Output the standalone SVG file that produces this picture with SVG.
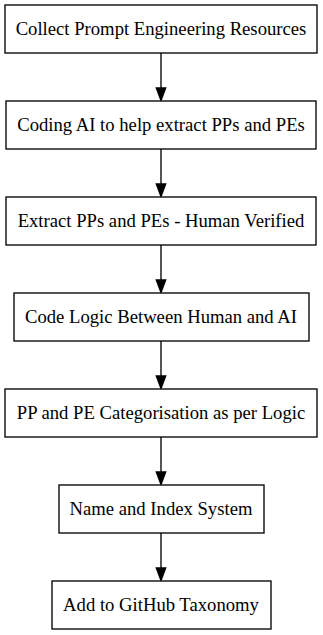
<svg xmlns="http://www.w3.org/2000/svg" width="323" height="635" viewBox="0 0 323 635">
  <style>
    .node rect { fill: #ffffff; stroke: #000000; stroke-width: 1.33; }
    .node text { font-family: "Liberation Serif", "Times New Roman", serif; font-size: 18.67px; fill: #000000; text-anchor: middle; }
    .edge line { stroke: #000000; stroke-width: 1.33; }
    .edge polygon { fill: #000000; stroke: #000000; stroke-width: 1.33; }
  </style>
  <rect width="323" height="635" fill="#ffffff"/>

  <g id="connectors" class="edge">
    <line x1="161" y1="53" x2="161" y2="88"/>
    <polygon points="156.3,88 165.7,88 161,100.5"/>
    <line x1="161" y1="149" x2="161" y2="184"/>
    <polygon points="156.3,184 165.7,184 161,196.5"/>
    <line x1="161" y1="245" x2="161" y2="280"/>
    <polygon points="156.3,280 165.7,280 161,292.5"/>
    <line x1="161" y1="341" x2="161" y2="376"/>
    <polygon points="156.3,376 165.7,376 161,388.5"/>
    <line x1="161" y1="437" x2="161" y2="472"/>
    <polygon points="156.3,472 165.7,472 161,484.5"/>
    <line x1="161" y1="533" x2="161" y2="568"/>
    <polygon points="156.3,568 165.7,568 161,580.5"/>
  </g>

  <g id="collect" class="node">
    <rect x="5" y="5" width="312" height="48"/>
    <text x="161" y="35">Collect Prompt Engineering Resources</text>
  </g>
  <g id="coding-ai" class="node">
    <rect x="6" y="101" width="310" height="48"/>
    <text x="161" y="131">Coding AI to help extract PPs and PEs</text>
  </g>
  <g id="extract" class="node">
    <rect x="6" y="197" width="310" height="48"/>
    <text x="161" y="227">Extract PPs and PEs - Human Verified</text>
  </g>
  <g id="code-logic" class="node">
    <rect x="14" y="293" width="295" height="48"/>
    <text x="161" y="323">Code Logic Between Human and AI</text>
  </g>
  <g id="categorisation" class="node">
    <rect x="5" y="389" width="312" height="48"/>
    <text x="161" y="419">PP and PE Categorisation as per Logic</text>
  </g>
  <g id="name-index" class="node">
    <rect x="59" y="485" width="205" height="48"/>
    <text x="161" y="515">Name and Index System</text>
  </g>
  <g id="github" class="node">
    <rect x="52" y="581" width="219" height="48"/>
    <text x="161" y="611">Add to GitHub Taxonomy</text>
  </g>
</svg>
